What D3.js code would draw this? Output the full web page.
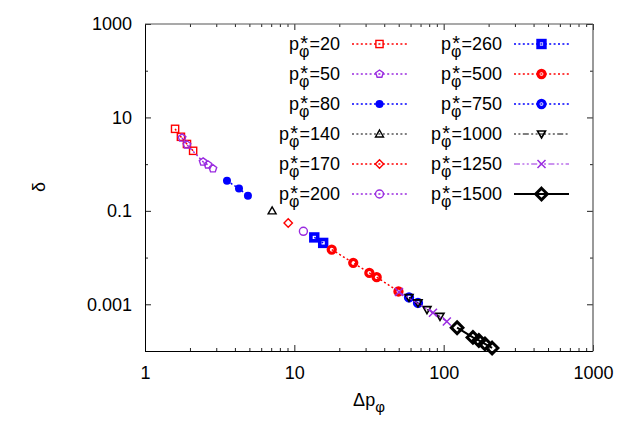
<!DOCTYPE html>
<html><head><meta charset="utf-8">
<script src="https://cdn.jsdelivr.net/npm/d3@7"></script>
<style>body{margin:0;background:#fff}svg{display:block}text{font-family:"Liberation Sans",Arial,Helvetica,sans-serif}</style>
</head><body><svg id="c" width="623" height="436"></svg>
<script>
// ---- data (Δp_φ, δ) per p*_φ series ----
const seriesNames = ["20","50","80","140","170","200","260","500","750","1000","1250","1500"];
const dp20 = [1.59, 1.74, 1.91, 2.10];
const d20  = [5.7, 3.85, 2.7, 1.93];
const dp50 = [1.77, 1.91, 2.45, 2.64, 2.85];
const d50  = [3.65, 2.6, 1.12, 0.97, 0.80];
const dp80 = [3.54, 4.26, 4.89];
const d80  = [0.44, 0.30, 0.21];
const dp140 = [7.1];
const d140  = [0.10];
const dp170 = [9.1];
const d170  = [0.055];
const dp200 = [11.5];
const d200  = [0.0365];
const dp260 = [13.6, 15.6];
const d260  = [0.027, 0.0206];
const dp500 = [17.8, 24.8, 31.8, 35.6, 49.8];
const d500  = [0.0148, 0.0077, 0.0047, 0.0038, 0.00188];
const dp750 = [58.6, 67.3];
const d750  = [0.0014, 0.00107];
const dp1000 = [58.6, 67.3, 77.3, 94.5];
const d1000  = [0.0014, 0.00107, 0.00077, 0.00055];
const dp1250 = [50.2, 84.8, 105];
const d1250  = [0.00183, 0.00066, 0.00043];
const dp1500 = [123, 157, 172, 189, 211];
const d1500  = [0.000315, 0.000195, 0.000168, 0.000142, 0.000116];

const xTickLabels = ["1","10","100","1000"];
const yTickLabels = ["1000","10","0.1","0.001"];

// ---- styles ----
const RED="#ff0000", BLUE="#0000ff", PUR="#9a2be0", BLK="#000000";
const DOT="2,2.4", DASHDOT="2,2.4,2,2.4,6,2.4", DASHDOTDOT="6,2.4,2,2.4,2,2.4";
const styles = [
  {c:RED, m:"sq", dash:DOT, lw:1.5},
  {c:PUR, m:"pent", dash:DOT, lw:1.5},
  {c:BLUE, m:"fcirc", dash:DOT, lw:1.5},
  {c:BLK, m:"tri", dash:DOT, lw:1.2},
  {c:RED, m:"diam", dash:DOT, lw:1.5},
  {c:PUR, m:"circ", dash:DOT, lw:1.5},
  {c:BLUE, m:"tsq", dash:DOT, lw:1.5},
  {c:RED, m:"tcirc", dash:DOT, lw:1.5},
  {c:BLUE, m:"tcirc", dash:DOT, lw:1.5},
  {c:BLK, m:"tridown", dash:DASHDOT, lw:1.2},
  {c:PUR, m:"x", dash:DASHDOTDOT, lw:1.2},
  {c:BLK, m:"tdiam", dash:null, lw:2}
];
const dpArr = [dp20,dp50,dp80,dp140,dp170,dp200,dp260,dp500,dp750,dp1000,dp1250,dp1500];
const dArr  = [d20,d50,d80,d140,d170,d200,d260,d500,d750,d1000,d1250,d1500];
const series = seriesNames.map((n,i)=>({name:n, st:styles[i], pts:dpArr[i].map((x,j)=>({x, y:dArr[i][j]}))}));

const svg = d3.select("#c");
const L=145, R=593, T=24, B=351;
const x = d3.scaleLog().domain([1,1000]).range([L,R]);
const y = d3.scaleLog().domain([1e-4,1e3]).range([B,T]);

// ---- axes ----
const xMajor=[1,10,100,1000];
const xMinor=[]; [1,10,100].forEach(d=>{for(let k=2;k<=9;k++) xMinor.push(d*k);});
const yMajor=[1000,10,0.1,0.001];
const yMinor=[100,1,0.01];

function ax(gen, pos, vals, size, labels, pad){
  const a = gen.tickValues(vals).tickSizeInner(-size).tickSizeOuter(0).tickPadding(pad||0)
    .tickFormat((d,i)=> labels? labels[i] : "");
  const g = svg.append("g").attr("transform", pos).call(a);
  g.select(".domain").remove();
  g.selectAll("line").attr("stroke","#222");
  if(!labels) g.selectAll("text").remove();
  g.selectAll("text").attr("font-size",18).attr("fill","#000").attr("font-family",'"Liberation Sans",Arial,sans-serif');
  return g;
}
ax(d3.axisBottom(x), `translate(0,${B})`, xMajor, 6, xTickLabels, 15);
ax(d3.axisBottom(x), `translate(0,${B})`, xMinor, 3, null);
ax(d3.axisTop(x), `translate(0,${T})`, xMajor, 6, null);
ax(d3.axisTop(x), `translate(0,${T})`, xMinor, 3, null);
ax(d3.axisLeft(y), `translate(${L},0)`, yMajor, 6, yTickLabels, 13);
ax(d3.axisLeft(y), `translate(${L},0)`, yMinor, 3, null);
ax(d3.axisRight(y), `translate(${R},0)`, yMajor, 6, null);
ax(d3.axisRight(y), `translate(${R},0)`, yMinor, 3, null);

// frame
svg.append("line").attr("x1",L).attr("x2",R).attr("y1",B+0.5).attr("y2",B+0.5).attr("stroke","#000");
svg.append("line").attr("x1",L+0.5).attr("x2",L+0.5).attr("y1",T).attr("y2",B+0.5).attr("stroke","#000");
svg.append("line").attr("x1",L).attr("x2",R).attr("y1",T).attr("y2",T).attr("stroke","#555").attr("stroke-width",1.2);
svg.append("line").attr("x1",R).attr("x2",R).attr("y1",T).attr("y2",B+0.5).attr("stroke","#555").attr("stroke-width",1.2);

// ---- markers ----
function marker(g, m, c, cx, cy){
  const s = g.append("g").attr("transform",`translate(${cx},${cy})`);
  const poly = pts => pts.map(p=>p.join(",")).join(" ");
  switch(m){
    case "sq": s.append("rect").attr("x",-3.6).attr("y",-3.6).attr("width",7.2).attr("height",7.2).attr("fill","none").attr("stroke",c).attr("stroke-width",1.4); break;
    case "pent": { const r=4; const p=d3.range(5).map(k=>[r*Math.sin(k*2*Math.PI/5), -r*Math.cos(k*2*Math.PI/5)]);
      s.append("polygon").attr("points",poly(p)).attr("fill","none").attr("stroke",c).attr("stroke-width",1.4); break; }
    case "fcirc": s.append("circle").attr("r",4).attr("fill",c); break;
    case "tri": s.append("polygon").attr("points",poly([[0,-4],[4,3],[-4,3]])).attr("fill","none").attr("stroke",c).attr("stroke-width",1.4); break;
    case "tridown": s.append("polygon").attr("points",poly([[0,4],[4,-3],[-4,-3]])).attr("fill","none").attr("stroke",c).attr("stroke-width",1.6); break;
    case "diam": s.append("polygon").attr("points",poly([[0,-4.2],[4.2,0],[0,4.2],[-4.2,0]])).attr("fill","none").attr("stroke",c).attr("stroke-width",1.4); break;
    case "circ": s.append("circle").attr("r",4).attr("fill","none").attr("stroke",c).attr("stroke-width",1.4); break;
    case "tsq": s.append("rect").attr("x",-3.4).attr("y",-3.4).attr("width",6.8).attr("height",6.8).attr("fill","none").attr("stroke",c).attr("stroke-width",3.6); break;
    case "tcirc": s.append("circle").attr("r",3.5).attr("fill","none").attr("stroke",c).attr("stroke-width",3.3); break;
    case "x": s.append("path").attr("d","M-4,-4L4,4M-4,4L4,-4").attr("stroke",c).attr("stroke-width",1.5); break;
    case "tdiam": s.append("polygon").attr("points",poly([[0,-5.8],[5.8,0],[0,5.8],[-5.8,0]])).attr("fill","none").attr("stroke",c).attr("stroke-width",3); break;
  }
}

// ---- series ----
const line = d3.line().x(d=>x(d.x)).y(d=>y(d.y));
series.forEach(s=>{
  const g = svg.append("g");
  if(s.pts.length>1){
    g.append("path").attr("d",line(s.pts)).attr("fill","none").attr("stroke",s.st.c)
      .attr("stroke-width",s.st.lw).attr("stroke-dasharray",s.st.dash);
  }
  s.pts.forEach(p=>marker(g, s.st.m, s.st.c, x(p.x), y(p.y)));
});

// ---- text measurement helper ----
function measure(str, size){
  const t = svg.append("text").attr("font-size",size).text(str);
  const w = t.node().getComputedTextLength(); t.remove(); return w;
}
const PHI_SIZE=16, STAR_SIZE=20;
const wPhi = measure("φ", PHI_SIZE), wStar = measure("*", STAR_SIZE);
const wMid = Math.max(wPhi, wStar);

// ---- legend ----
const lg = svg.append("g");
series.forEach((s,i)=>{
  const col = i<6?0:1, row=i%6;
  const cy = 44 + row*30;
  const textEnd = col===0?340:502;
  const lx1 = col===0?352:514, lx2 = col===0?407:569;
  const t = lg.append("text").attr("x",textEnd).attr("y",cy+6).attr("text-anchor","end").attr("font-size",18);
  t.append("tspan").text("p");
  t.append("tspan").attr("font-size",PHI_SIZE).attr("dx",(wMid-wPhi)/2).attr("dy",7).text("φ");
  t.append("tspan").attr("font-size",STAR_SIZE).attr("dx",-(wPhi+wStar)/2).attr("dy",-7).text("*");
  t.append("tspan").attr("dx",(wMid-wStar)/2).text("="+s.name);
  lg.append("line").attr("x1",lx1).attr("x2",lx2).attr("y1",cy).attr("y2",cy)
    .attr("stroke",s.st.c).attr("stroke-width",s.st.lw).attr("stroke-dasharray",s.st.dash);
  marker(lg, s.st.m, s.st.c, (lx1+lx2)/2, cy);
});

// ---- axis titles ----
const xt = svg.append("text").attr("x",369).attr("y",406).attr("text-anchor","middle").attr("font-size",18);
xt.append("tspan").text("Δp");
xt.append("tspan").attr("font-size",15).attr("dy",6).text("φ");
svg.append("text").attr("transform","translate(45,187) rotate(-90)").attr("text-anchor","middle")
  .attr("font-size",18).text("δ");
</script></body></html>
